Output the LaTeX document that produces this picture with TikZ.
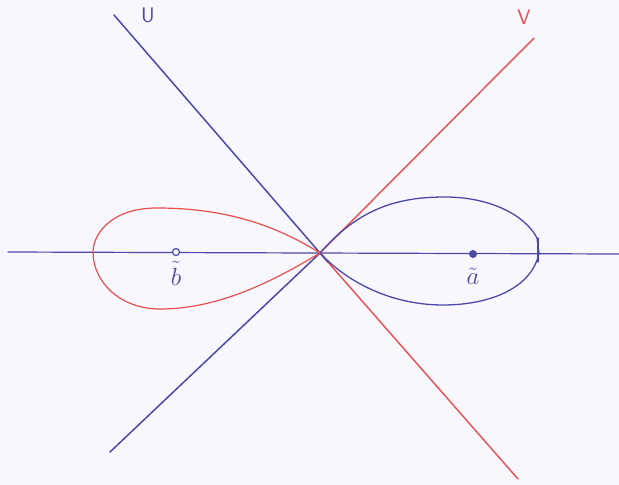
\documentclass[tikz,border=0pt]{standalone}
\usepackage{fontspec}
\usetikzlibrary{calc}
\begin{document}
\begin{tikzpicture}[x=1pt,y=-1pt,
  bluepen/.style={draw=penblue,line width=1.5pt,line cap=round},
  redpen/.style={draw=penred,line width=1.4pt,line cap=round},
  lbl/.style={font=\sffamily\fontsize{21}{24}\selectfont,inner sep=0pt},
  mlbl/.style={font=\fontsize{25}{28}\selectfont,inner sep=0pt}]
\definecolor{penblue}{RGB}{78,72,168}
\definecolor{penred}{RGB}{236,78,78}
\definecolor{paper}{RGB}{247,247,253}
\fill[paper] (0,0) rectangle (619,485);
\useasboundingbox (0,0) rectangle (619,485);
% key points
\coordinate (O) at (320,253);
\coordinate (axL) at (8,252);
\coordinate (axR) at (619,254);
\coordinate (Utop) at (114,15);
\coordinate (Ubot) at (518,479);
\coordinate (Vtop) at (534,38);
\coordinate (Vbot) at (110,452);
% axis
\draw[bluepen,line width=1.2pt] (axL) -- (axR);
% lines U and V
\draw[bluepen] (Utop) -- (O);
\draw[redpen] (O) -- (Ubot);
\draw[redpen] (O) -- (Vtop);
\draw[bluepen] (O) -- (Vbot);
\draw[bluepen] (O) -- ($(O)!0.04!(Ubot)$);
% blue loop (right)
\draw[bluepen,line width=1.3pt] (O) .. controls (360,207) and (400,197) .. (445,197)
  .. controls (490,197) and (525,215) .. (537,238) -- (539,253)
  .. controls (532,288) and (490,305) .. (443,305)
  .. controls (395,305) and (350,285) .. (O);
\draw[bluepen,line width=1.3pt] (538,238) -- (538,262);
% red loop (left)
\draw[redpen,line width=1.2pt] (O) .. controls (280,228) and (230,208) .. (157,208)
  .. controls (110,208) and (93,235) .. (93,252)
  .. controls (93,282) and (120,309) .. (160,309)
  .. controls (220,309) and (275,280) .. (O);
% points
\node[circle,fill=penblue,inner sep=0pt,minimum size=8pt] (a) at (473,254) {};
\node[circle,draw=penblue,fill=paper,line width=1.2pt,inner sep=0pt,minimum size=7pt] (b) at (176,252) {};
% labels
\node[mlbl,text=penblue] (atext) at (473,276) {$\tilde{a}$};
\node[mlbl,text=penblue] (btext) at (176,276) {$\tilde{\vphantom{\big(}b}$};
\node[lbl,text=penblue] (Ulab) at (148,15) {U};
\node[lbl,text=penred] (Vlab) at (524,17) {V};
\end{tikzpicture}
\end{document}
